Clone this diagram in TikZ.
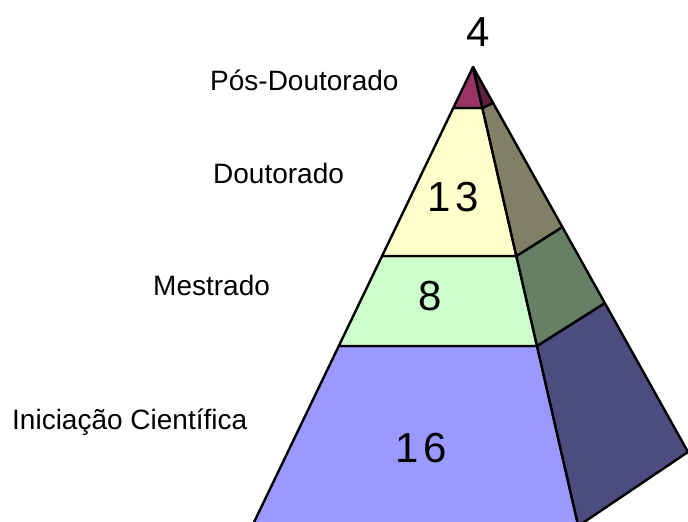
\documentclass[tikz,border=0pt]{standalone}
\usepackage{fontspec}
\setmainfont{Liberation Sans}
\usetikzlibrary{calc}
\definecolor{posF}{HTML}{993366}
\definecolor{douF}{HTML}{FFFFCC}
\definecolor{mesF}{HTML}{CCFFCC}
\definecolor{iniF}{HTML}{9999FF}
\tikzset{
  face/.style={draw=black, line width=2.4pt, line join=round},
  lbl/.style={anchor=base west, inner sep=0pt, font=\fontsize{28}{30}\selectfont},
  num/.style={anchor=center, inner sep=0pt, font=\fontsize{42}{44}\selectfont}
}
\begin{document}
\begin{tikzpicture}[x=1pt, y=-1pt]
\useasboundingbox (0,0) rectangle (688,522);
\clip (0,0) rectangle (688,522);
\coordinate (A) at (473,67);
\coordinate (BL) at (252.2,526);
\coordinate (BR) at (578.3,526);
\coordinate (BB) at (688,452);
% layer boundaries
\coordinate (L1) at ($(A)!0.0893!(BL)$);
\coordinate (R1) at ($(A)!0.0893!(BR)$);
\coordinate (S1) at ($(A)!0.0935!(BB)$);
\coordinate (L2) at ($(A)!0.4118!(BL)$);
\coordinate (R2) at ($(A)!0.4118!(BR)$);
\coordinate (S2) at ($(A)!0.4156!(BB)$);
\coordinate (L3) at ($(A)!0.6078!(BL)$);
\coordinate (R3) at ($(A)!0.6078!(BR)$);
\coordinate (S3) at ($(A)!0.6130!(BB)$);
% front faces
\filldraw[face, fill=iniF] (L3) -- (R3) -- (BR) -- (BL) -- cycle;
\filldraw[face, fill=mesF] (L2) -- (R2) -- (R3) -- (L3) -- cycle;
\filldraw[face, fill=douF] (L1) -- (R1) -- (R2) -- (L2) -- cycle;
\filldraw[face, fill=posF] (A) -- (R1) -- (L1) -- cycle;
% side faces
\filldraw[face, fill=iniF!50!black] (R3) -- (S3) -- (BB) -- (BR) -- cycle;
\filldraw[face, fill=mesF!50!black] (R2) -- (S2) -- (S3) -- (R3) -- cycle;
\filldraw[face, fill=douF!50!black] (R1) -- (S1) -- (S2) -- (R2) -- cycle;
\filldraw[face, fill=posF!60!black] (A) -- (S1) -- (R1) -- cycle;
% numbers
\node[num] (n4) at (478.5,32) {4};
\node[num] (n13) at (453,197.5) {1\kern5pt 3};
\node[num] (n8) at (430,296.5) {8};
\node[num] (n16) at (421,448) {1\kern5pt 6};
% labels
\node[lbl] (lpos) at (210,90) {Pós-Doutorado};
\node[lbl] (ldou) at (213,183) {Doutorado};
\node[lbl] (lmes) at (153,295) {Mestrado};
\node[lbl] (lini) at (12,429) {Iniciação Científica};
\end{tikzpicture}
\end{document}
